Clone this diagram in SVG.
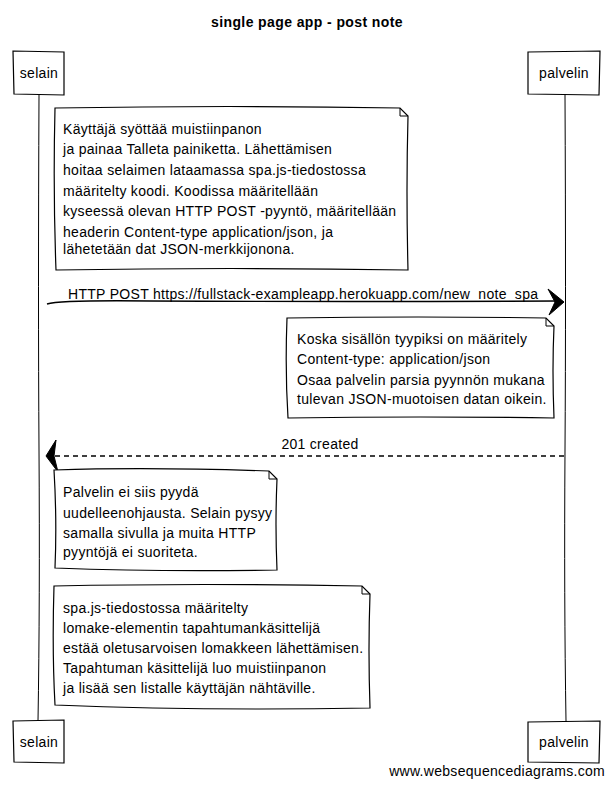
<svg xmlns="http://www.w3.org/2000/svg" width="614" height="786" viewBox="0 0 614 786">
<style>
text{font-family:"Liberation Sans",Arial,sans-serif;font-size:14px;letter-spacing:0.3px;fill:#000}
.title{font-size:14px;font-weight:bold;letter-spacing:0.4px}
.box{fill:#fff;stroke:#000;stroke-width:1.2}
.life{fill:none;stroke:#000;stroke-width:1}
.note{fill:#fff;stroke:#000;stroke-width:1.2}
.fold{fill:none;stroke:#000;stroke-width:1}
.msg{fill:none;stroke:#000;stroke-width:1.4}
.dash{stroke-dasharray:5,4}
.head{fill:#000;stroke:#000;stroke-width:1}
</style>
<rect width="614" height="786" fill="#fff"/>
<text class="title" x="307" y="27" text-anchor="middle">single page app - post note</text>

<g id="lifelines">
<path class="life" d="M39,95 Q38,300 39,450 Q40,600 38,721"/>
<path class="life" d="M565,95 Q566,300 565,450 Q564,600 566,721"/>
</g>

<g id="selain-top">
<path class="box" d="M13,51 L64,52 L64,95 L14,94 Z"/>
<text x="39" y="78" text-anchor="middle">selain</text>
</g>
<g id="palvelin-top">
<path class="box" d="M528,52 L600,51 L599,95 L528,94 Z"/>
<text x="564" y="78" text-anchor="middle">palvelin</text>
</g>

<g id="note1">
<path class="note" d="M55,108 Q230,105 400,108 L408,116 Q406,190 408,270 Q230,267 56,270 Q53,190 55,108 Z"/>
<path class="fold" d="M400,108 L400,116 L408,116"/>
<text x="63" y="134">Käyttäjä syöttää muistiinpanon</text>
<text x="63" y="154">ja painaa Talleta painiketta. Lähettämisen</text>
<text x="63" y="175">hoitaa selaimen lataamassa spa.js-tiedostossa</text>
<text x="63" y="196">määritelty koodi. Koodissa määritellään</text>
<text x="63" y="216">kyseessä olevan HTTP POST -pyyntö, määritellään</text>
<text x="63" y="237">headerin Content-type application/json, ja</text>
<text x="63" y="254">lähetetään dat JSON-merkkijonona.</text>
</g>

<g id="connectors">
<path class="msg" d="M47,304 Q60,300 150,301 Q350,302 556,301"/>
<path class="head" d="M548,289 L564,302 L549,315 L555,302 Z"/>
<text x="68" y="299">HTTP POST https://fullstack-exampleapp.herokuapp.com/new_note_spa</text>
<path class="msg dash" d="M564,456 L54,456"/>
<path class="head" d="M56,440 L46,456 L58,472 L54,456 Z"/>
<text x="320" y="449" text-anchor="middle">201 created</text>
</g>

<g id="note2">
<path class="note" d="M287,318 Q420,316 546,318 L554,326 Q552,370 554,418 Q420,416 288,418 Q285,370 287,318 Z"/>
<path class="fold" d="M546,318 L546,326 L554,326"/>
<text x="297" y="344">Koska sisällön tyypiksi on määritely</text>
<text x="297" y="364">Content-type: application/json</text>
<text x="297" y="385">Osaa palvelin parsia pyynnön mukana</text>
<text x="297" y="404">tulevan JSON-muotoisen datan oikein.</text>
</g>

<g id="note3">
<path class="note" d="M54,470 Q150,467 269,471 L277,479 Q275,525 277,570 Q160,572 55,568 Q57,520 54,470 Z"/>
<path class="fold" d="M269,471 L269,479 L277,479"/>
<text x="63" y="497">Palvelin ei siis pyydä</text>
<text x="63" y="518">uudelleenohjausta. Selain pysyy</text>
<text x="63" y="538">samalla sivulla ja muita HTTP</text>
<text x="63" y="557">pyyntöjä ei suoriteta.</text>
</g>

<g id="note4">
<path class="note" d="M54,586 Q200,583 362,586 L370,594 Q368,650 370,708 Q200,711 55,705 Q52,650 54,586 Z"/>
<path class="fold" d="M362,586 L362,594 L370,594"/>
<text x="63" y="613">spa.js-tiedostossa määritelty</text>
<text x="63" y="633">lomake-elementin tapahtumankäsittelijä</text>
<text x="63" y="653">estää oletusarvoisen lomakkeen lähettämisen.</text>
<text x="63" y="673">Tapahtuman käsittelijä luo muistiinpanon</text>
<text x="63" y="693">ja lisää sen listalle käyttäjän nähtäville.</text>
</g>

<g id="selain-bottom">
<path class="box" d="M13,721 L64,720 L64,763 L14,762 Z"/>
<text x="39" y="747" text-anchor="middle">selain</text>
</g>
<g id="palvelin-bottom">
<path class="box" d="M528,722 L600,721 L599,763 L528,762 Z"/>
<text x="564" y="747" text-anchor="middle">palvelin</text>
</g>

<text x="605" y="776" text-anchor="end">www.websequencediagrams.com</text>
</svg>
